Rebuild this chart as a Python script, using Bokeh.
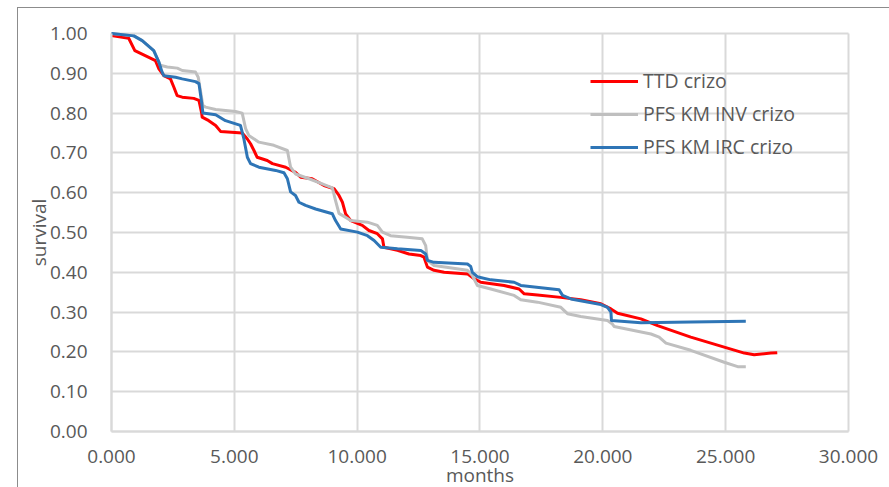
import math
from bokeh.plotting import figure
from bokeh.models import (Range1d, FixedTicker, NumeralTickFormatter, Legend, LegendItem,
                          InlineStyleSheet)
from bokeh.core.properties import value
from bokeh.embed import file_html
from bokeh.resources import INLINE

# ---- data ----
ttd_months = [0, 0.7, 0.95, 1.52, 1.79, 1.93, 2.13, 2.40, 2.54, 2.67, 2.88, 3.35, 3.56, 3.67, 3.69, 3.96,
              4.24, 4.44, 5.32, 5.53, 5.66, 5.80, 5.93, 6.34, 6.55, 7.09, 7.49, 7.70, 8.17, 8.65, 9.06,
              9.26, 9.40, 9.53, 9.74, 10.21, 10.48, 10.82, 11.03, 11.09, 11.64, 12.11, 12.59, 12.72,
              12.86, 13.13, 13.54, 14.49, 14.76, 15.03, 15.98, 16.59, 16.80, 17.34, 18.29, 19.10, 19.92,
              20.33, 20.60, 21.55, 22.23, 23.58, 24.94, 25.76, 26.16, 26.84, 27.10]
ttd_surv = [0.995, 0.988, 0.957, 0.94, 0.932, 0.911, 0.894, 0.886, 0.865, 0.844, 0.840, 0.837, 0.832, 0.80,
            0.79, 0.781, 0.769, 0.754, 0.750, 0.735, 0.723, 0.706, 0.689, 0.681, 0.673, 0.664, 0.651, 0.639,
            0.635, 0.618, 0.61, 0.593, 0.576, 0.547, 0.530, 0.518, 0.505, 0.497, 0.484, 0.463, 0.455, 0.446,
            0.442, 0.438, 0.413, 0.405, 0.40, 0.396, 0.384, 0.375, 0.367, 0.358, 0.346, 0.343, 0.337, 0.331,
            0.321, 0.308, 0.297, 0.283, 0.266, 0.237, 0.212, 0.197, 0.193, 0.197, 0.198]

inv_months = [0, 0.91, 1.25, 1.72, 1.93, 1.99, 2.27, 2.68, 2.88, 3.42, 3.53, 3.63, 3.72, 3.83, 4.24, 5.05,
              5.32, 5.46, 5.59, 6.0, 6.61, 7.16, 7.29, 7.49, 8.04, 8.58, 8.99, 9.12, 9.26, 9.74, 10.42,
              10.82, 11.03, 11.36, 12.04, 12.65, 12.79, 12.86, 13.13, 14.49, 14.69, 14.89, 15.44, 16.39,
              16.66, 17.34, 18.29, 18.56, 19.10, 20.19, 20.39, 20.46, 21.96, 22.29, 22.57, 23.58, 24.94,
              25.49, 25.82]
inv_surv = [1.0, 0.994, 0.982, 0.957, 0.928, 0.92, 0.916, 0.913, 0.907, 0.903, 0.89, 0.853, 0.819, 0.815,
            0.809, 0.804, 0.80, 0.761, 0.744, 0.727, 0.719, 0.706, 0.664, 0.647, 0.635, 0.622, 0.612, 0.58,
            0.548, 0.530, 0.526, 0.518, 0.501, 0.492, 0.488, 0.484, 0.467, 0.430, 0.417, 0.405, 0.392, 0.367,
            0.358, 0.342, 0.331, 0.325, 0.312, 0.296, 0.289, 0.279, 0.27, 0.264, 0.245, 0.237, 0.222, 0.204,
            0.174, 0.163, 0.163]

irc_months = [0, 0.91, 1.25, 1.72, 1.93, 2.06, 2.13, 2.61, 2.88, 3.42, 3.56, 3.67, 3.72, 4.24, 4.64, 5.25,
              5.39, 5.53, 5.66, 6.0, 6.68, 7.02, 7.16, 7.29, 7.49, 7.63, 7.90, 8.31, 8.99, 9.12, 9.33,
              10.01, 10.42, 10.69, 10.96, 11.64, 12.59, 12.79, 12.86, 13.13, 14.49, 14.62, 14.69, 14.89,
              15.44, 16.39, 16.66, 18.22, 18.36, 18.70, 19.92, 20.19, 20.33, 20.35, 21.55, 23.58, 25.82]
irc_surv = [1.0, 0.994, 0.982, 0.957, 0.928, 0.903, 0.894, 0.890, 0.886, 0.879, 0.874, 0.827, 0.80, 0.796,
            0.781, 0.769, 0.735, 0.689, 0.673, 0.664, 0.656, 0.65, 0.635, 0.602, 0.593, 0.576, 0.568, 0.559,
            0.547, 0.530, 0.509, 0.501, 0.492, 0.48, 0.463, 0.459, 0.455, 0.446, 0.43, 0.425, 0.421, 0.415,
            0.40, 0.389, 0.381, 0.375, 0.367, 0.356, 0.342, 0.333, 0.319, 0.312, 0.30, 0.279, 0.273, 0.275,
            0.277]

series_names = ["TTD crizo", "PFS KM INV crizo", "PFS KM IRC crizo"]
x_ticks = [0, 5, 10, 15, 20, 25, 30]
y_ticks = [0.0, 0.1, 0.2, 0.3, 0.4, 0.5, 0.6, 0.7, 0.8, 0.9, 1.0]
x_title = "months"
y_title = "survival"

FONT = "Open Sans"
TXT = "#595959"
GRID = "#D9D9D9"

# The frame covers nearly the whole canvas; both axes sit at 0 inside it,
# so tick labels and titles are drawn in the margin of the data area.
p = figure(width=889, height=487, output_backend="svg", toolbar_location=None,
           x_range=Range1d(-3.704, 31.669), y_range=Range1d(-0.1407, 1.0829),
           min_border_left=20, min_border_right=0, min_border_top=0, min_border_bottom=0,
           background_fill_color="white", border_fill_color="white")

p.stylesheets = [InlineStyleSheet(css="""
:host::after {
  content: "";
  position: absolute;
  left: 17px; top: 7px; right: -10px; bottom: -10px;
  border-left: 1px solid #8C8C8C;
  border-top: 1px solid #8C8C8C;
  pointer-events: none;
}
""")]

p.outline_line_color = None

p.ygrid.grid_line_color = GRID
p.ygrid.grid_line_width = 2
p.ygrid.ticker = FixedTicker(ticks=y_ticks)
p.ygrid.cross_bounds = (x_ticks[0], x_ticks[-1])
p.xgrid.grid_line_color = GRID
p.xgrid.grid_line_width = 2
p.xgrid.ticker = FixedTicker(ticks=x_ticks)
p.xgrid.cross_bounds = (y_ticks[0], y_ticks[-1])

p.xaxis.ticker = FixedTicker(ticks=x_ticks)
p.yaxis.ticker = FixedTicker(ticks=y_ticks)
p.xaxis.formatter = NumeralTickFormatter(format="0.000")
p.yaxis.formatter = NumeralTickFormatter(format="0.00")

for ax in (p.xaxis[0], p.yaxis[0]):
    ax.major_tick_line_color = None
    ax.minor_tick_line_color = None
    ax.axis_line_color = GRID
    ax.axis_line_width = 2
    ax.major_label_text_font = FONT
    ax.major_label_text_font_size = "19px"
    ax.major_label_text_color = TXT

p.yaxis.fixed_location = 0
p.yaxis.bounds = (0, 1)
p.yaxis.major_label_standoff = 18

p.xaxis.fixed_location = 0
p.xaxis.bounds = (0, 30)
p.xaxis.major_label_standoff = 12

# axis titles
p.text(x=[15], y=[-0.1085], text=[x_title], text_align="center", text_baseline="middle",
       text_font=value(FONT), text_font_size="19px", text_color=TXT)
p.text(x=[-2.97], y=[0.5], text=[y_title], angle=math.pi / 2, text_align="center",
       text_baseline="middle", text_font=value(FONT), text_font_size="19px", text_color=TXT)

r1 = p.line(ttd_months, ttd_surv, line_color="#FF0000", line_width=3, line_join="round")
r2 = p.line(inv_months, inv_surv, line_color="#BFBFBF", line_width=3, line_join="round")
r3 = p.line(irc_months, irc_surv, line_color="#2E75B6", line_width=3, line_join="round")

legend = Legend(items=[LegendItem(label=series_names[0], renderers=[r1]),
                       LegendItem(label=series_names[1], renderers=[r2]),
                       LegendItem(label=series_names[2], renderers=[r3])],
                location=(570, 327), orientation="vertical",
                glyph_width=48, glyph_height=20, label_height=20, spacing=6,
                padding=0, margin=0, label_standoff=5,
                label_text_font=FONT, label_text_font_size="19.5px", label_text_color=TXT,
                background_fill_alpha=0, border_line_alpha=0)
p.add_layout(legend)

open("out.html", "w").write(file_html(p, INLINE))
